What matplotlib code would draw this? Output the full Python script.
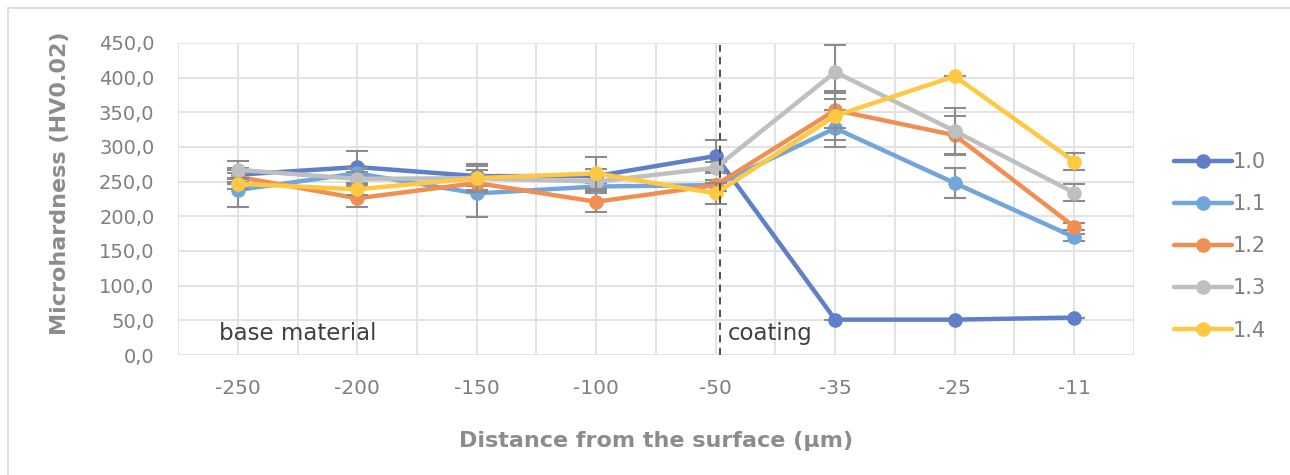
import numpy as np
import matplotlib
matplotlib.use('Agg')
import matplotlib.pyplot as plt
from matplotlib.patches import Rectangle
from matplotlib.ticker import FuncFormatter, MultipleLocator

# Data
distances = ['-250', '-200', '-150', '-100', '-50', '-35', '-25', '-11']
series_names = ['1.0', '1.1', '1.2', '1.3', '1.4']

hv_10 = [260, 271, 258, 258, 287, 51, 51, 54]
hv_11 = [238, 262, 233, 243, 245, 327, 248, 170]
hv_12 = [257, 226, 248, 221, 245, 353, 317, 185]
hv_13 = [267, 254, 255, 250, 270, 408, 323, 234]
hv_14 = [247, 239, 255, 262, 233, 345, 402, 279]

err_10 = [10, 23, 15, 10, 23, 0, 0, 0]
err_11 = [25, 8, 34, 10, 8, 27, 22, 5]
err_12 = [10, 13, 10, 15, 8, 25, 28, 5]
err_13 = [13, 10, 20, 10, 8, 39, 33, 12]
err_14 = [8, 8, 20, 23, 15, 35, 0, 12]

colors = ['#5F7FC7', '#72A6DB', '#F18F52', '#BEBFC1', '#FEC843']

values = [hv_10, hv_11, hv_12, hv_13, hv_14]
errors = [err_10, err_11, err_12, err_13, err_14]

plt.rcParams['font.family'] = ['DejaVu Sans']
text_grey = '#7F7F7F'

fig = plt.figure(figsize=(12.9, 4.75), dpi=100)
fig.patches.append(Rectangle((0.006, -0.01), 1.1, 0.994, transform=fig.transFigure,
                             fill=False, edgecolor='#D9D9D9', linewidth=1.2))
ax = fig.add_axes([0.138, 0.2526, 0.741, 0.657])

x = np.arange(len(distances))
for name, vals, errs, col in zip(series_names, values, errors, colors):
    ax.errorbar(x, vals, yerr=errs, fmt='none', ecolor='#8C8C8C',
                elinewidth=1.5, capsize=8, capthick=1.5, zorder=3)
    ax.plot(x, vals, color=col, linewidth=3.2, marker='o', markersize=9.5,
            label=name, zorder=3, solid_capstyle='round')

# boundary between base material and coating
ax.axvline(4.04, ymin=0, ymax=0.995, color='#404040', linestyle=(0, (4, 3)),
           linewidth=1.3, zorder=4)
ax.text(-0.16, 21, 'base material', fontsize=16.5, color='#404040',
        va='baseline', ha='left')
ax.text(4.1, 21, 'coating', fontsize=16.5, color='#404040',
        va='baseline', ha='left')

ax.set_xlim(-0.5, len(distances) - 0.5)
ax.set_ylim(0, 450)
ax.yaxis.set_major_locator(MultipleLocator(50))
ax.yaxis.set_major_formatter(FuncFormatter(lambda v, p: f'{v:.1f}'.replace('.', ',')))
ax.set_xticks(x)
ax.set_xticklabels(distances)
ax.set_xticks(np.arange(-0.5, len(distances), 1.0), minor=True)

ax.grid(which='both', axis='x', color='#E3E3E3', linewidth=1.4)
ax.grid(which='major', axis='y', color='#E3E3E3', linewidth=1.4)
ax.set_axisbelow(True)
for s in ax.spines.values():
    s.set_visible(False)
ax.tick_params(which='both', length=0)
ax.tick_params(axis='y', labelsize=14, labelcolor=text_grey, pad=17)
ax.tick_params(axis='x', labelsize=14.5, labelcolor=text_grey, pad=17)

ax.set_ylabel('Microhardness (HV0.02)', fontsize=16, fontweight='bold',
              color='#8C8C8C')
ax.yaxis.set_label_coords(-0.113, 0.551)
ax.set_xlabel('Distance from the surface (\u00b5m)', fontsize=16,
              fontweight='bold', color='#8C8C8C', labelpad=24)

leg = ax.legend(loc='upper left', bbox_to_anchor=(1.022, 0.71), frameon=False,
                fontsize=15, labelcolor=text_grey, handlelength=2.8,
                handletextpad=0.05, labelspacing=1.06)

fig.savefig('out.png', dpi=100)
